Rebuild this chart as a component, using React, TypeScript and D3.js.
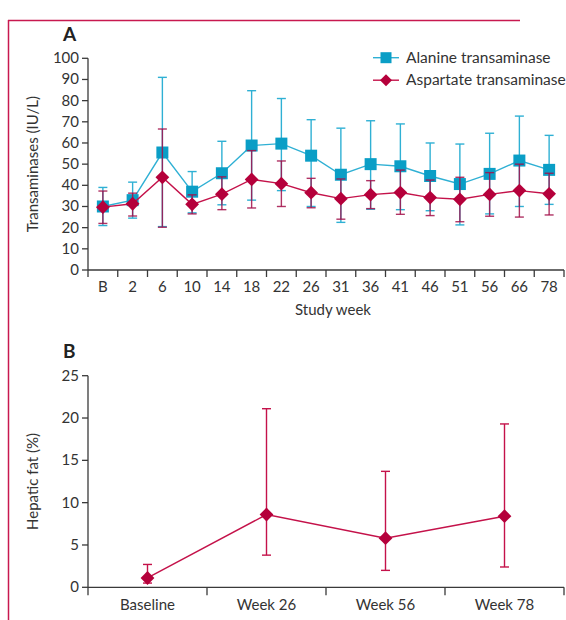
import React, { useEffect, useRef } from 'react';
import * as d3 from 'd3';

// Panel A: study weeks and transaminase values (mean, lower, upper)
const weeks = ['B', '2', '6', '10', '14', '18', '22', '26', '31', '36', '41', '46', '51', '56', '66', '78'];
const altMean = [30, 33, 55.5, 37, 45.7, 58.8, 59.7, 54, 45, 50, 49, 44.4, 40.6, 45.4, 51.7, 47.3];
const altLow = [21, 24.5, 20.5, 27, 30.8, 33, 37.5, 30, 22.5, 28.7, 28.5, 28, 21.3, 26.5, 30, 31];
const altHigh = [39, 41.5, 91, 46.5, 60.8, 84.7, 81, 71, 67, 70.5, 69, 60, 59.5, 64.6, 72.7, 63.6];
const astMean = [29.7, 31.3, 43.8, 31, 35.8, 42.8, 40.8, 36.5, 33.7, 35.6, 36.6, 34.2, 33.4, 35.7, 37.5, 36];
const astLow = [22, 25.5, 20.2, 26.5, 28.5, 29.3, 30, 29.4, 24, 29, 26.3, 25.7, 22.8, 25.4, 25, 26];
const astHigh = [37.3, 36.3, 66.6, 35.5, 44, 56.4, 51.5, 43.3, 43, 42.2, 47.2, 42.5, 43.8, 46, 50, 45.7];
const yTicksA = [0, 10, 20, 30, 40, 50, 60, 70, 80, 90, 100];

// Panel B: hepatic fat
const visits = ['Baseline', 'Week 26', 'Week 56', 'Week 78'];
const fatMean = [1.1, 8.6, 5.8, 8.4];
const fatLow = [0.5, 3.8, 2.0, 2.4];
const fatHigh = [2.7, 21.1, 13.7, 19.3];
const yTicksB = [0, 5, 10, 15, 20, 25];

const BLUE = '#0a9ec6';
const BLUE_LINE = '#2fb0d4';
const RED = '#b5003b';
const RED_LINE = '#c4124a';
const AXIS = '#3a3a3a';
const FONT = 'Lato, sans-serif';
const FS = 15;

const App = () => {
    const ref = useRef<SVGSVGElement | null>(null);

    useEffect(() => {
        const svg = d3.select(ref.current);
        svg.selectAll('*').remove();

        // frame lines
        svg.append('line').attr('x1', 8.5).attr('x2', 8.5).attr('y1', 20).attr('y2', 620)
            .attr('stroke', '#c8194f').attr('stroke-width', 1.5);
        svg.append('line').attr('x1', 8).attr('x2', 520).attr('y1', 20.5).attr('y2', 20.5)
            .attr('stroke', '#c8194f').attr('stroke-width', 1.5);

        const left = 88, right = 564;

        // ---------- Panel A ----------
        const xA = d3.scaleBand().domain(weeks).range([left, right]).padding(0);
        const yA = d3.scaleLinear().domain([0, 100]).range([270, 58.3]);
        const cx = (i: number) => (xA(weeks[i]) as number) + xA.bandwidth() / 2;

        const gA = svg.append('g');
        gA.append('text').attr('x', 63).attr('y', 41).text('A')
            .attr('font-family', FONT).attr('font-weight', 700).attr('font-size', 19).attr('fill', '#222');

        // y axis
        gA.append('line').attr('x1', left).attr('x2', left).attr('y1', yA(100)).attr('y2', yA(0))
            .attr('stroke', AXIS).attr('stroke-width', 1.3);
        yTicksA.forEach(t => {
            gA.append('line').attr('x1', left - 6).attr('x2', left).attr('y1', yA(t)).attr('y2', yA(t))
                .attr('stroke', AXIS).attr('stroke-width', 1.3);
            gA.append('text').attr('x', left - 9).attr('y', yA(t) + 5).attr('text-anchor', 'end')
                .attr('font-family', FONT).attr('font-size', FS).attr('fill', '#333').text(t);
        });
        gA.append('text').attr('transform', `translate(38,${yA(50)}) rotate(-90)`).attr('text-anchor', 'middle')
            .attr('font-family', FONT).attr('font-size', FS).attr('fill', '#333').text('Transaminases (IU/L)');

        // x axis
        gA.append('line').attr('x1', left).attr('x2', right).attr('y1', yA(0)).attr('y2', yA(0))
            .attr('stroke', AXIS).attr('stroke-width', 1.3);
        weeks.forEach((w, i) => {
            const x0 = xA(w) as number;
            gA.append('line').attr('x1', x0).attr('x2', x0).attr('y1', yA(0)).attr('y2', yA(0) + 7)
                .attr('stroke', AXIS).attr('stroke-width', 1.3);
            gA.append('text').attr('x', cx(i)).attr('y', yA(0) + 22).attr('text-anchor', 'middle')
                .attr('font-family', FONT).attr('font-size', FS).attr('fill', '#333').text(w);
        });
        gA.append('line').attr('x1', right).attr('x2', right).attr('y1', yA(0)).attr('y2', yA(0) + 7)
            .attr('stroke', AXIS).attr('stroke-width', 1.3);
        gA.append('text').attr('x', 333).attr('y', 315).attr('text-anchor', 'middle')
            .attr('font-family', FONT).attr('font-size', FS).attr('fill', '#333').text('Study week');

        const errBars = (g: any, x: (i: number) => number, y: any, lo: number[], hi: number[], color: string, op: number) => {
            lo.forEach((l, i) => {
                const xx = x(i);
                g.append('line').attr('x1', xx).attr('x2', xx).attr('y1', y(l)).attr('y2', y(hi[i]))
                    .attr('stroke', color).attr('stroke-width', 1.4).attr('opacity', op);
                [l, hi[i]].forEach(v => {
                    g.append('line').attr('x1', xx - 4.5).attr('x2', xx + 4.5).attr('y1', y(v)).attr('y2', y(v))
                        .attr('stroke', color).attr('stroke-width', 1.4).attr('opacity', op);
                });
            });
        };

        errBars(gA, cx, yA, altLow, altHigh, BLUE_LINE, 1);

        const lineA = (vals: number[]) => d3.line<number>().x((_, i) => cx(i)).y(d => yA(d))(vals);
        gA.append('path').attr('d', lineA(altMean)).attr('fill', 'none').attr('stroke', BLUE_LINE).attr('stroke-width', 1.4);
        altMean.forEach((v, i) => {
            gA.append('rect').attr('x', cx(i) - 6).attr('y', yA(v) - 6).attr('width', 12).attr('height', 12).attr('fill', BLUE);
        });

        errBars(gA, cx, yA, astLow, astHigh, '#a3104a', 0.85);
        gA.append('path').attr('d', lineA(astMean)).attr('fill', 'none').attr('stroke', RED_LINE).attr('stroke-width', 1.4);
        const diamond = d3.symbol().type(d3.symbolSquare).size(95);
        astMean.forEach((v, i) => {
            gA.append('path').attr('d', diamond()).attr('fill', RED)
                .attr('transform', `translate(${cx(i)},${yA(v)}) rotate(45)`);
        });

        // legend
        const legend = gA.append('g');
        [
            { label: 'Alanine transaminase', color: BLUE, lineColor: BLUE_LINE, shape: 'square' },
            { label: 'Aspartate transaminase', color: RED, lineColor: RED_LINE, shape: 'diamond' },
        ].forEach((d, i) => {
            const yy = 57.7 + i * 22.5;
            legend.append('line').attr('x1', 373).attr('x2', 399).attr('y1', yy).attr('y2', yy)
                .attr('stroke', d.lineColor).attr('stroke-width', 1.4);
            if (d.shape === 'square') {
                legend.append('rect').attr('x', 380.5).attr('y', yy - 5.5).attr('width', 11).attr('height', 11).attr('fill', d.color);
            } else {
                legend.append('path').attr('d', d3.symbol().type(d3.symbolSquare).size(72)())
                    .attr('fill', d.color).attr('transform', `translate(386,${yy}) rotate(45)`);
            }
            legend.append('text').attr('x', 406).attr('y', yy + 5).attr('font-family', FONT).attr('font-size', 15.5)
                .attr('fill', '#333').text(d.label);
        });

        // ---------- Panel B ----------
        const xB = d3.scaleBand().domain(visits).range([left, right]).padding(0);
        const yB = d3.scaleLinear().domain([0, 25]).range([587.3, 375.7]);
        const bx = (i: number) => (xB(visits[i]) as number) + xB.bandwidth() / 2;

        const gB = svg.append('g');
        gB.append('text').attr('x', 63).attr('y', 358).text('B')
            .attr('font-family', FONT).attr('font-weight', 700).attr('font-size', 19).attr('fill', '#222');

        gB.append('line').attr('x1', left).attr('x2', left).attr('y1', yB(25)).attr('y2', yB(0))
            .attr('stroke', AXIS).attr('stroke-width', 1.3);
        yTicksB.forEach(t => {
            gB.append('line').attr('x1', left - 6).attr('x2', left).attr('y1', yB(t)).attr('y2', yB(t))
                .attr('stroke', AXIS).attr('stroke-width', 1.3);
            gB.append('text').attr('x', left - 9).attr('y', yB(t) + 5).attr('text-anchor', 'end')
                .attr('font-family', FONT).attr('font-size', FS).attr('fill', '#333').text(t);
        });
        gB.append('text').attr('transform', `translate(38,${yB(12.5)}) rotate(-90)`).attr('text-anchor', 'middle')
            .attr('font-family', FONT).attr('font-size', FS).attr('fill', '#333').text('Hepatic fat (%)');

        gB.append('line').attr('x1', left).attr('x2', right).attr('y1', yB(0)).attr('y2', yB(0))
            .attr('stroke', AXIS).attr('stroke-width', 1.3);
        visits.forEach((v, i) => {
            const x0 = xB(v) as number;
            gB.append('line').attr('x1', x0).attr('x2', x0).attr('y1', yB(0)).attr('y2', yB(0) + 8)
                .attr('stroke', AXIS).attr('stroke-width', 1.3);
            gB.append('text').attr('x', bx(i)).attr('y', yB(0) + 23).attr('text-anchor', 'middle')
                .attr('font-family', FONT).attr('font-size', FS).attr('fill', '#333').text(v);
        });
        gB.append('line').attr('x1', right).attr('x2', right).attr('y1', yB(0)).attr('y2', yB(0) + 8)
            .attr('stroke', AXIS).attr('stroke-width', 1.3);

        errBars(gB, bx, yB, fatLow, fatHigh, RED_LINE, 1);
        const lineB = d3.line<number>().x((_, i) => bx(i)).y(d => yB(d));
        gB.append('path').attr('d', lineB(fatMean)).attr('fill', 'none').attr('stroke', RED_LINE).attr('stroke-width', 1.4);
        fatMean.forEach((v, i) => {
            gB.append('path').attr('d', diamond()).attr('fill', RED)
                .attr('transform', `translate(${bx(i)},${yB(v)}) rotate(45)`);
        });
    }, []);

    return (
        <svg ref={ref} width={566} height={620}
            style={{ position: 'absolute', left: 0, top: 0, display: 'block', background: '#fff' }} />
    );
};

export default App;
